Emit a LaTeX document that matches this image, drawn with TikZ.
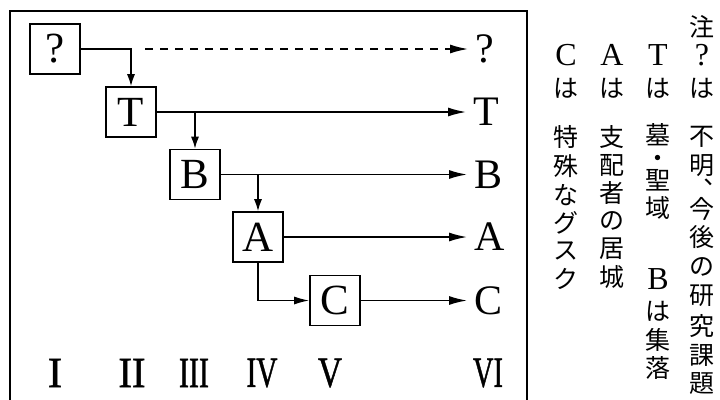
\documentclass[tikz,border=0pt]{standalone}
\usepackage{fontspec}
\setmainfont{Liberation Serif}
\newfontfamily\jp{Noto Sans CJK JP}
\newfontfamily\jpv[RawFeature=+vert]{Noto Sans CJK JP}
\newfontfamily\numfont[FakeBold=1.2]{Liberation Serif}
\usetikzlibrary{arrows.meta}
\begin{document}
\begin{tikzpicture}[x=1pt,y=-1pt,
  box/.style={draw,line width=1.6pt,minimum width=50pt,minimum height=50pt,inner sep=0pt,font=\fontsize{43}{43}\selectfont},
  lab/.style={anchor=west,inner sep=0pt,font=\fontsize{42}{42}\selectfont},
  conn/.style={line width=1.5pt,-{Latex[length=18pt,width=9pt]},shorten >=7pt},
  drop/.style={line width=1.5pt,-{Latex[length=12pt,width=8pt]}},
  num/.style={inner sep=0pt,font=\numfont\fontsize{43}{43}\selectfont},
  vt/.style={inner sep=0pt,font=\jp\fontsize{25}{25}\selectfont},
  latv/.style={inner sep=0pt,font=\fontsize{32}{32}\selectfont},
  frame/.style={line width=1.8pt}
]
\useasboundingbox (0,0) rectangle (720,399);
\fill[white] (0,0) rectangle (720,399);
% frame
\draw[frame] (10,403) -- (10,11) -- (527,11) -- (527,403);
% boxes
\node[box] (q) at (55,49) {?};
\node[box] (t) at (131,112) {T};
\node[box] (b) at (195,174.5) {B};
\node[box] (a) at (258,237) {A};
\node[box] (c) at (335,300.5) {C};
% right labels
\node[lab] (q2) at (475,49) {?};
\node[lab] (t2) at (473,112) {T};
\node[lab] (b2) at (474,174.5) {B};
\node[lab] (a2) at (474,237) {A};
\node[lab] (c2) at (474,300.5) {C};
% connectors
\draw[drop] (q.east) -| (t.north);
\coordinate (qd) at (145,49);
\draw[conn,dash pattern=on 8pt off 7pt] (qd) -- (q2.west);
\draw[conn] (t.east) -- (t2.west);
\draw[drop] (t.east -| b.north) -- (b.north);
\draw[conn] (b.east) -- (b2.west);
\draw[drop] (b.east -| a.north) -- (a.north);
\draw[conn] (a.east) -- (a2.west);
\draw[line width=1.5pt,-{Latex[length=15pt,width=8pt]}] (a.south) |- (c.west);
\draw[conn] (c.east) -- (c2.west);
% period numerals
\node[num] (n1) at (55,373) {I};
\node[num] (n2) at (132,373) {\scalebox{0.95}[1]{II}};
\node[num] (n3) at (194,373) {\scalebox{0.7}[1]{III}};
\node[num] (n4) at (262,373) {\scalebox{0.68}[1]{IV}};
\node[num] (n5) at (330,373) {\scalebox{0.78}[1]{V}};
\node[num] (n6) at (488,373) {\scalebox{0.66}[1]{VI}};
% vertical note, column 1
\node[vt] (k1) at (702,27) {\vphantom{国}注};
\node[latv] (k2) at (702,55) {?};
\node[vt] (k3) at (702,89) {\vphantom{国}は};
\foreach \ch/\yy [count=\i] in {不/137,明/166,今/209,後/237,の/267,研/296,究/326,課/355,題/384}
  \node[vt] (k1-\i) at (702,\yy) {\vphantom{国}\ch};
\node[vt,font=\jpv\fontsize{25}{25}\selectfont] (kc) at (701,189) {、};
% column 2
\node[latv] (m1) at (658,55) {T};
\node[vt] (m2) at (658,89) {\vphantom{国}は};
\foreach \ch/\yy [count=\i] in {墓/135,聖/180,域/208,は/311,集/340,落/368}
  \node[vt] (m2-\i) at (658,\yy) {\ch};
\node[vt] (m2-dot) at (658,167.5) {\smash{・}};
\node[latv] (m3) at (658,279) {B};
% column 3
\node[latv] (p1) at (612,55) {A};
\node[vt] (p2) at (612,89) {\vphantom{国}は};
\foreach \ch/\yy [count=\i] in {支/137,配/165,者/193,の/221,居/249,城/277}
  \node[vt] (p2-\i) at (612,\yy) {\vphantom{国}\ch};
% column 4
\node[latv] (r1) at (566,55) {C};
\node[vt] (r2) at (566,89) {\vphantom{国}は};
\foreach \ch/\yy [count=\i] in {特/137,殊/166,な/195,グ/223,ス/251,ク/279}
  \node[vt] (r2-\i) at (566,\yy) {\vphantom{国}\ch};
\end{tikzpicture}
\end{document}
